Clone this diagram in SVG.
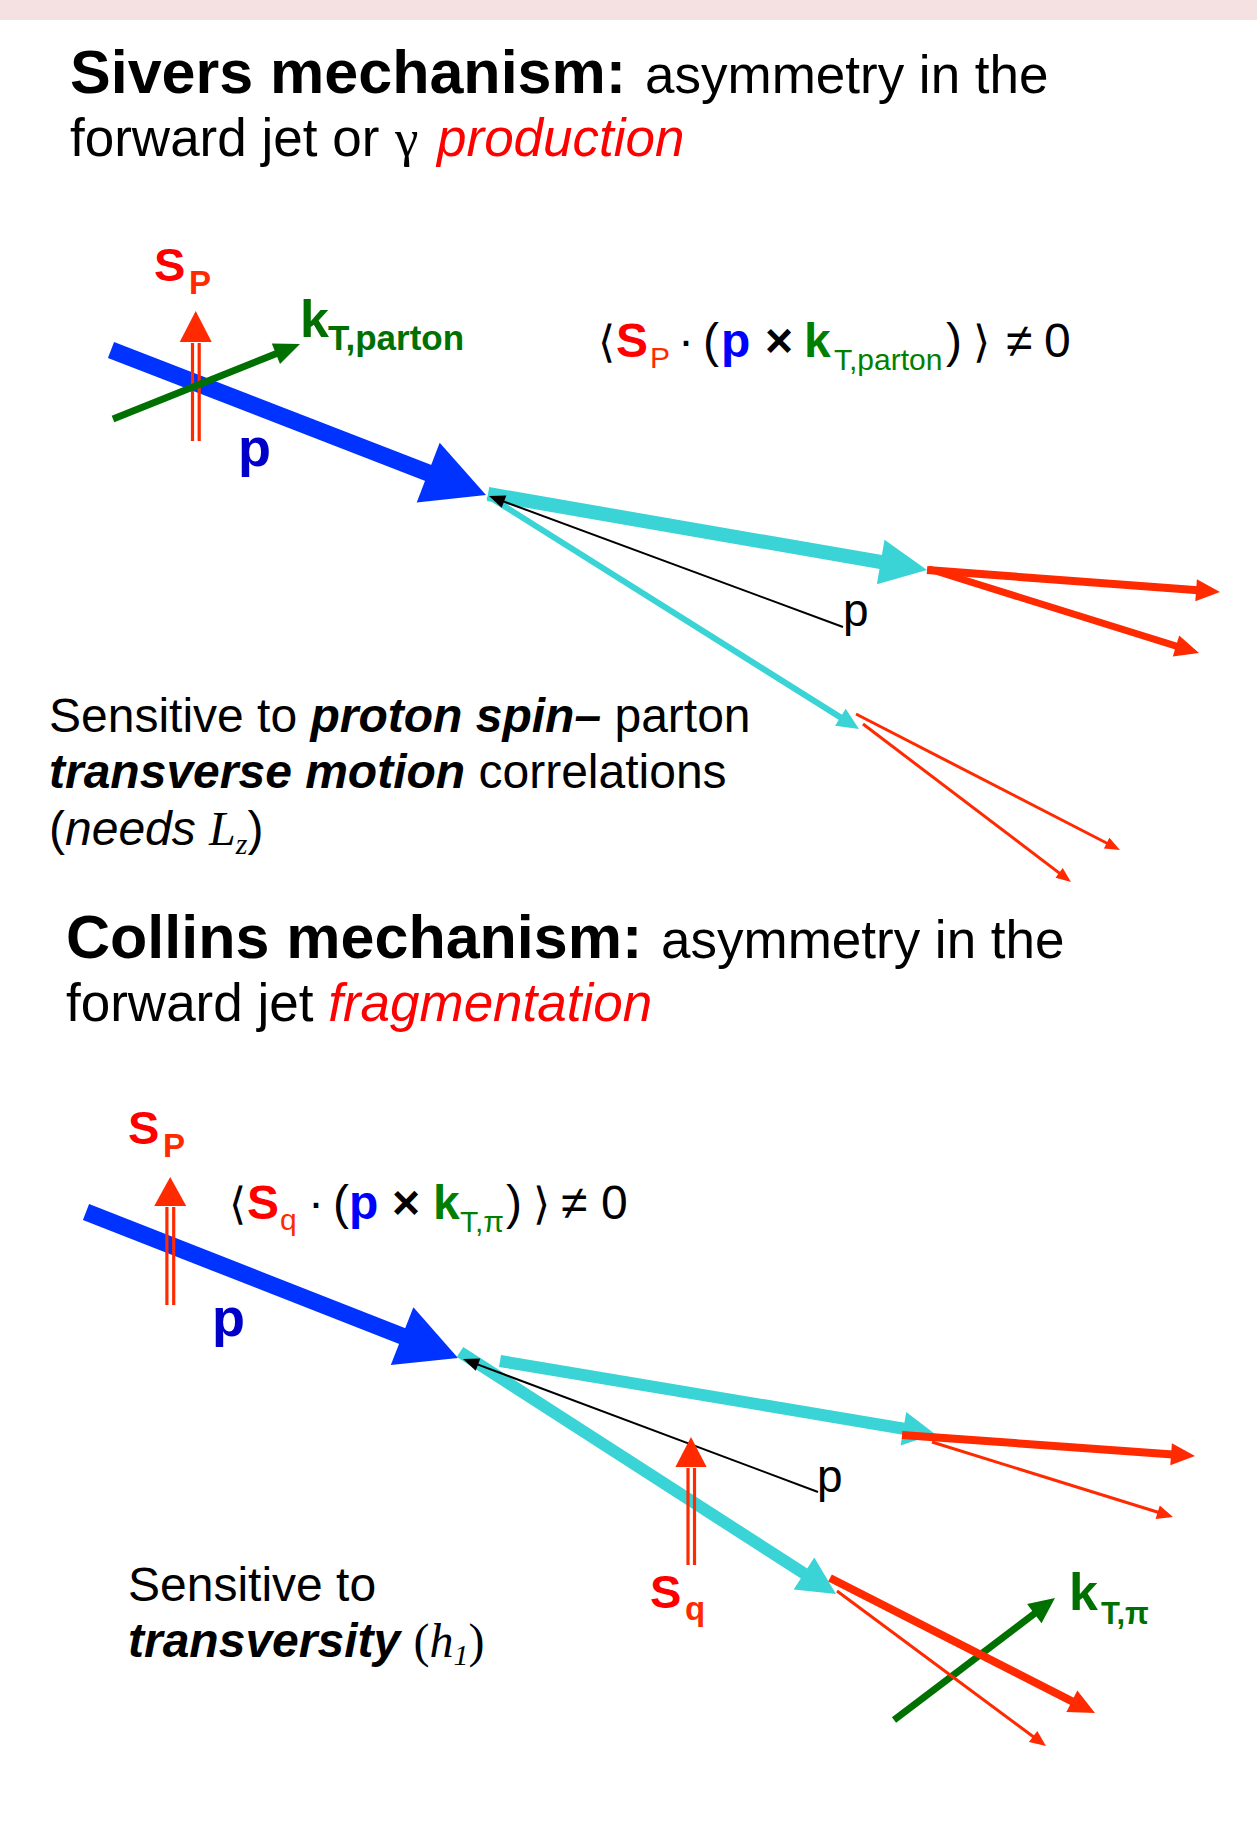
<svg xmlns="http://www.w3.org/2000/svg" width="1257" height="1828" viewBox="0 0 1257 1828">
<style>
text{font-family:"Liberation Sans",Arial,sans-serif}
.b{font-weight:bold}
.i{font-style:italic}
.sf{font-family:"Liberation Serif","Times New Roman",serif}
.ang{font-family:"DejaVu Sans",sans-serif;font-weight:200}
.cy{stroke:#3ad4d6;fill:none}
.cyh{fill:#3ad4d6}
.rd{stroke:#ff2a00;fill:none}
.rdh{fill:#ff2a00}
.bl{stroke:#0033ff;fill:none}
.blh{fill:#0033ff}
.gr{stroke:#007000;fill:none}
.grh{fill:#007000}
.k{stroke:#000;fill:none}
.kh{fill:#000}
</style>
<rect width="1257" height="1828" fill="#fff"/>
<rect width="1257" height="20" fill="#f5e1e1"/>

<g id="sivers-title">
<text x="70" y="93"><tspan class="b" font-size="61">Sivers mechanism:</tspan><tspan x="645" font-size="53">asymmetry in the</tspan></text>
<text x="70" y="156" font-size="53">forward jet or <tspan class="sf" x="395">γ</tspan><tspan class="i" fill="#ff0000" x="437">production</tspan></text>
</g>

<g id="sivers-connectors">
<line class="bl" x1="111" y1="350" x2="431" y2="474" stroke-width="17"/>
<polygon class="blh" points="486,495 416.7,502.4 439.7,442.8"/>
<line class="rd" x1="192.5" y1="441" x2="192.5" y2="343" stroke-width="3.2"/>
<line class="rd" x1="199.2" y1="441" x2="199.2" y2="343" stroke-width="3.2"/>
<polygon class="rdh" points="195.7,311 179.7,342 211.7,342"/>
<line class="gr" x1="113" y1="419" x2="277.8" y2="353" stroke-width="7"/>
<polygon class="grh" points="300,344 280,363.9 271.8,343.5"/>
<line class="cy" x1="488" y1="494" x2="883.7" y2="562.5" stroke-width="14"/>
<polygon class="cyh" points="927,570 876.9,584.2 884.5,539.8"/>
<line class="cy" x1="488" y1="496" x2="842.1" y2="718.4" stroke-width="6"/>
<polygon class="cyh" points="859,729 835.1,725.8 845.7,708.8"/>
<line class="k" x1="843" y1="627" x2="502.1" y2="500.9" stroke-width="2"/>
<polygon class="kh" points="489,496 506.3,495.5 501.7,507.7"/>
<line class="rd" x1="927" y1="570" x2="1198.1" y2="590.3" stroke-width="8"/>
<polygon class="rdh" points="1220,592 1195.3,601.2 1196.9,579.2"/>
<line class="rd" x1="929" y1="569" x2="1177.9" y2="646.6" stroke-width="7"/>
<polygon class="rdh" points="1199,653 1172.8,656.5 1179.2,635.5"/>
<line class="rd" x1="856" y1="714" x2="1108.5" y2="844" stroke-width="3"/>
<polygon class="rdh" points="1120,850 1103.9,848.4 1109.4,837.8"/>
<line class="rd" x1="863" y1="724" x2="1060.7" y2="874.1" stroke-width="3"/>
<polygon class="rdh" points="1071,882 1055.5,877.7 1062.7,868.1"/>
</g>

<g id="sivers-labels">
<text x="154" y="281" class="b" font-size="47" fill="#ff0000">S<tspan x="189" y="294" font-size="33" fill="#ff2a00">P</tspan></text>
<text x="300" y="337" class="b" font-size="52" fill="#007000">k<tspan x="328" y="350" font-size="35">T,parton</tspan></text>
<text x="238" y="466" class="b" font-size="54" fill="#0000c8">p</text>
<text x="843" y="626" font-size="46">p</text>
</g>

<g id="sivers-formula">
<text y="357" font-size="48"><tspan class="ang" x="598" font-size="44">⟨</tspan><tspan class="b" x="616" fill="#ff0000">S</tspan><tspan x="650" y="368" font-size="30" fill="#ff2a00">P</tspan><tspan x="678" y="357">·</tspan><tspan x="703">(</tspan><tspan class="b" x="721" fill="#0000ff">p</tspan><tspan class="b" x="765">×</tspan><tspan class="b" x="804" fill="#008000">k</tspan><tspan x="834" y="370" font-size="30" fill="#008000">T,parton</tspan><tspan x="946" y="357">)</tspan><tspan class="ang" x="973" font-size="44">⟩</tspan><tspan x="1006">≠</tspan><tspan x="1044">0</tspan></text>
</g>

<g id="sivers-text">
<text x="49" y="732" font-size="48">Sensitive to <tspan class="b i">proton spin–</tspan> parton</text>
<text x="49" y="788" font-size="48"><tspan class="b i">transverse motion</tspan> correlations</text>
<text x="49" y="845" font-size="48">(<tspan class="i">needs </tspan><tspan class="sf i">L</tspan><tspan class="sf i" font-size="30" dy="9">z</tspan><tspan dy="-9">)</tspan></text>
</g>

<g id="collins-title">
<text x="66" y="958"><tspan class="b" font-size="61">Collins mechanism:</tspan><tspan x="661" font-size="53">asymmetry in the</tspan></text>
<text x="66" y="1021" font-size="53">forward jet <tspan class="i" fill="#ff0000">fragmentation</tspan></text>
</g>

<g id="collins-connectors">
<line class="bl" x1="86" y1="1212" x2="404.9" y2="1337.2" stroke-width="17"/>
<polygon class="blh" points="458,1358 390.8,1365 413.4,1307.2"/>
<line class="rd" x1="166.9" y1="1305" x2="166.9" y2="1207" stroke-width="3.2"/>
<line class="rd" x1="173.7" y1="1305" x2="173.7" y2="1207" stroke-width="3.2"/>
<polygon class="rdh" points="170.2,1177 154.2,1206 186.2,1206"/>
<line class="cy" x1="500" y1="1361" x2="905.4" y2="1429" stroke-width="12"/>
<polygon class="cyh" points="935,1434 900.6,1445.5 906.2,1411.9"/>
<line class="cy" x1="460" y1="1352" x2="805.7" y2="1574.5" stroke-width="12"/>
<polygon class="cyh" points="836,1594 793.7,1589.4 814.3,1557.4"/>
<line class="k" x1="818" y1="1492" x2="476.1" y2="1363.9" stroke-width="2"/>
<polygon class="kh" points="463,1359 480.3,1358.5 475.7,1370.7"/>
<line class="rd" x1="688" y1="1565" x2="688" y2="1468" stroke-width="3.2"/>
<line class="rd" x1="694.5" y1="1565" x2="694.5" y2="1468" stroke-width="3.2"/>
<polygon class="rdh" points="691,1437 675.4,1467 706.6,1467"/>
<line class="rd" x1="902" y1="1435" x2="1173.1" y2="1454.4" stroke-width="8"/>
<polygon class="rdh" points="1195,1456 1170.3,1465.3 1171.9,1443.3"/>
<line class="rd" x1="932" y1="1442" x2="1159.6" y2="1512.8" stroke-width="3"/>
<polygon class="rdh" points="1173,1517 1155.6,1518.9 1159.8,1505.5"/>
<line class="gr" x1="894" y1="1720" x2="1035.9" y2="1612.5" stroke-width="7"/>
<polygon class="grh" points="1055,1598 1041.5,1623.3 1027.1,1604.1"/>
<line class="rd" x1="830" y1="1578" x2="1073.6" y2="1702.1" stroke-width="8"/>
<polygon class="rdh" points="1095,1713 1066.4,1711.9 1077.3,1690.5"/>
<line class="rd" x1="837" y1="1591" x2="1034.7" y2="1737.7" stroke-width="3"/>
<polygon class="rdh" points="1046,1746 1028.9,1742.1 1037.3,1730.9"/>
</g>

<g id="collins-labels">
<text x="128" y="1144" class="b" font-size="47" fill="#ff0000">S<tspan x="163" y="1157" font-size="33" fill="#ff2a00">P</tspan></text>
<text x="212" y="1336" class="b" font-size="54" fill="#0000c8">p</text>
<text x="817" y="1492" font-size="46">p</text>
<text x="650" y="1608" class="b" font-size="47" fill="#ff0000">S<tspan x="685" y="1620" font-size="33" fill="#ff2a00">q</tspan></text>
<text x="1069" y="1610" class="b" font-size="52" fill="#007000">k<tspan x="1101" y="1624" font-size="31">T,π</tspan></text>
</g>

<g id="collins-formula">
<text y="1219" font-size="48"><tspan class="ang" x="229" font-size="44">⟨</tspan><tspan class="b" x="247" fill="#ff0000">S</tspan><tspan x="280" y="1230" font-size="30" fill="#ff2a00">q</tspan><tspan x="308" y="1219">·</tspan><tspan x="333">(</tspan><tspan class="b" x="349" fill="#0000ff">p</tspan><tspan class="b" x="392">×</tspan><tspan class="b" x="433" fill="#008000">k</tspan><tspan x="460" y="1232" font-size="30" fill="#008000">T,π</tspan><tspan x="506" y="1219">)</tspan><tspan class="ang" x="533" font-size="44">⟩</tspan><tspan x="561">≠</tspan><tspan x="601">0</tspan></text>
</g>

<g id="collins-text">
<text x="128" y="1601" font-size="48">Sensitive to</text>
<text x="128" y="1657" font-size="48"><tspan class="b i">transversity</tspan> <tspan class="sf">(</tspan><tspan class="sf i">h</tspan><tspan class="sf i" font-size="30" dy="8">1</tspan><tspan class="sf" dy="-8">)</tspan></text>
</g>
</svg>
